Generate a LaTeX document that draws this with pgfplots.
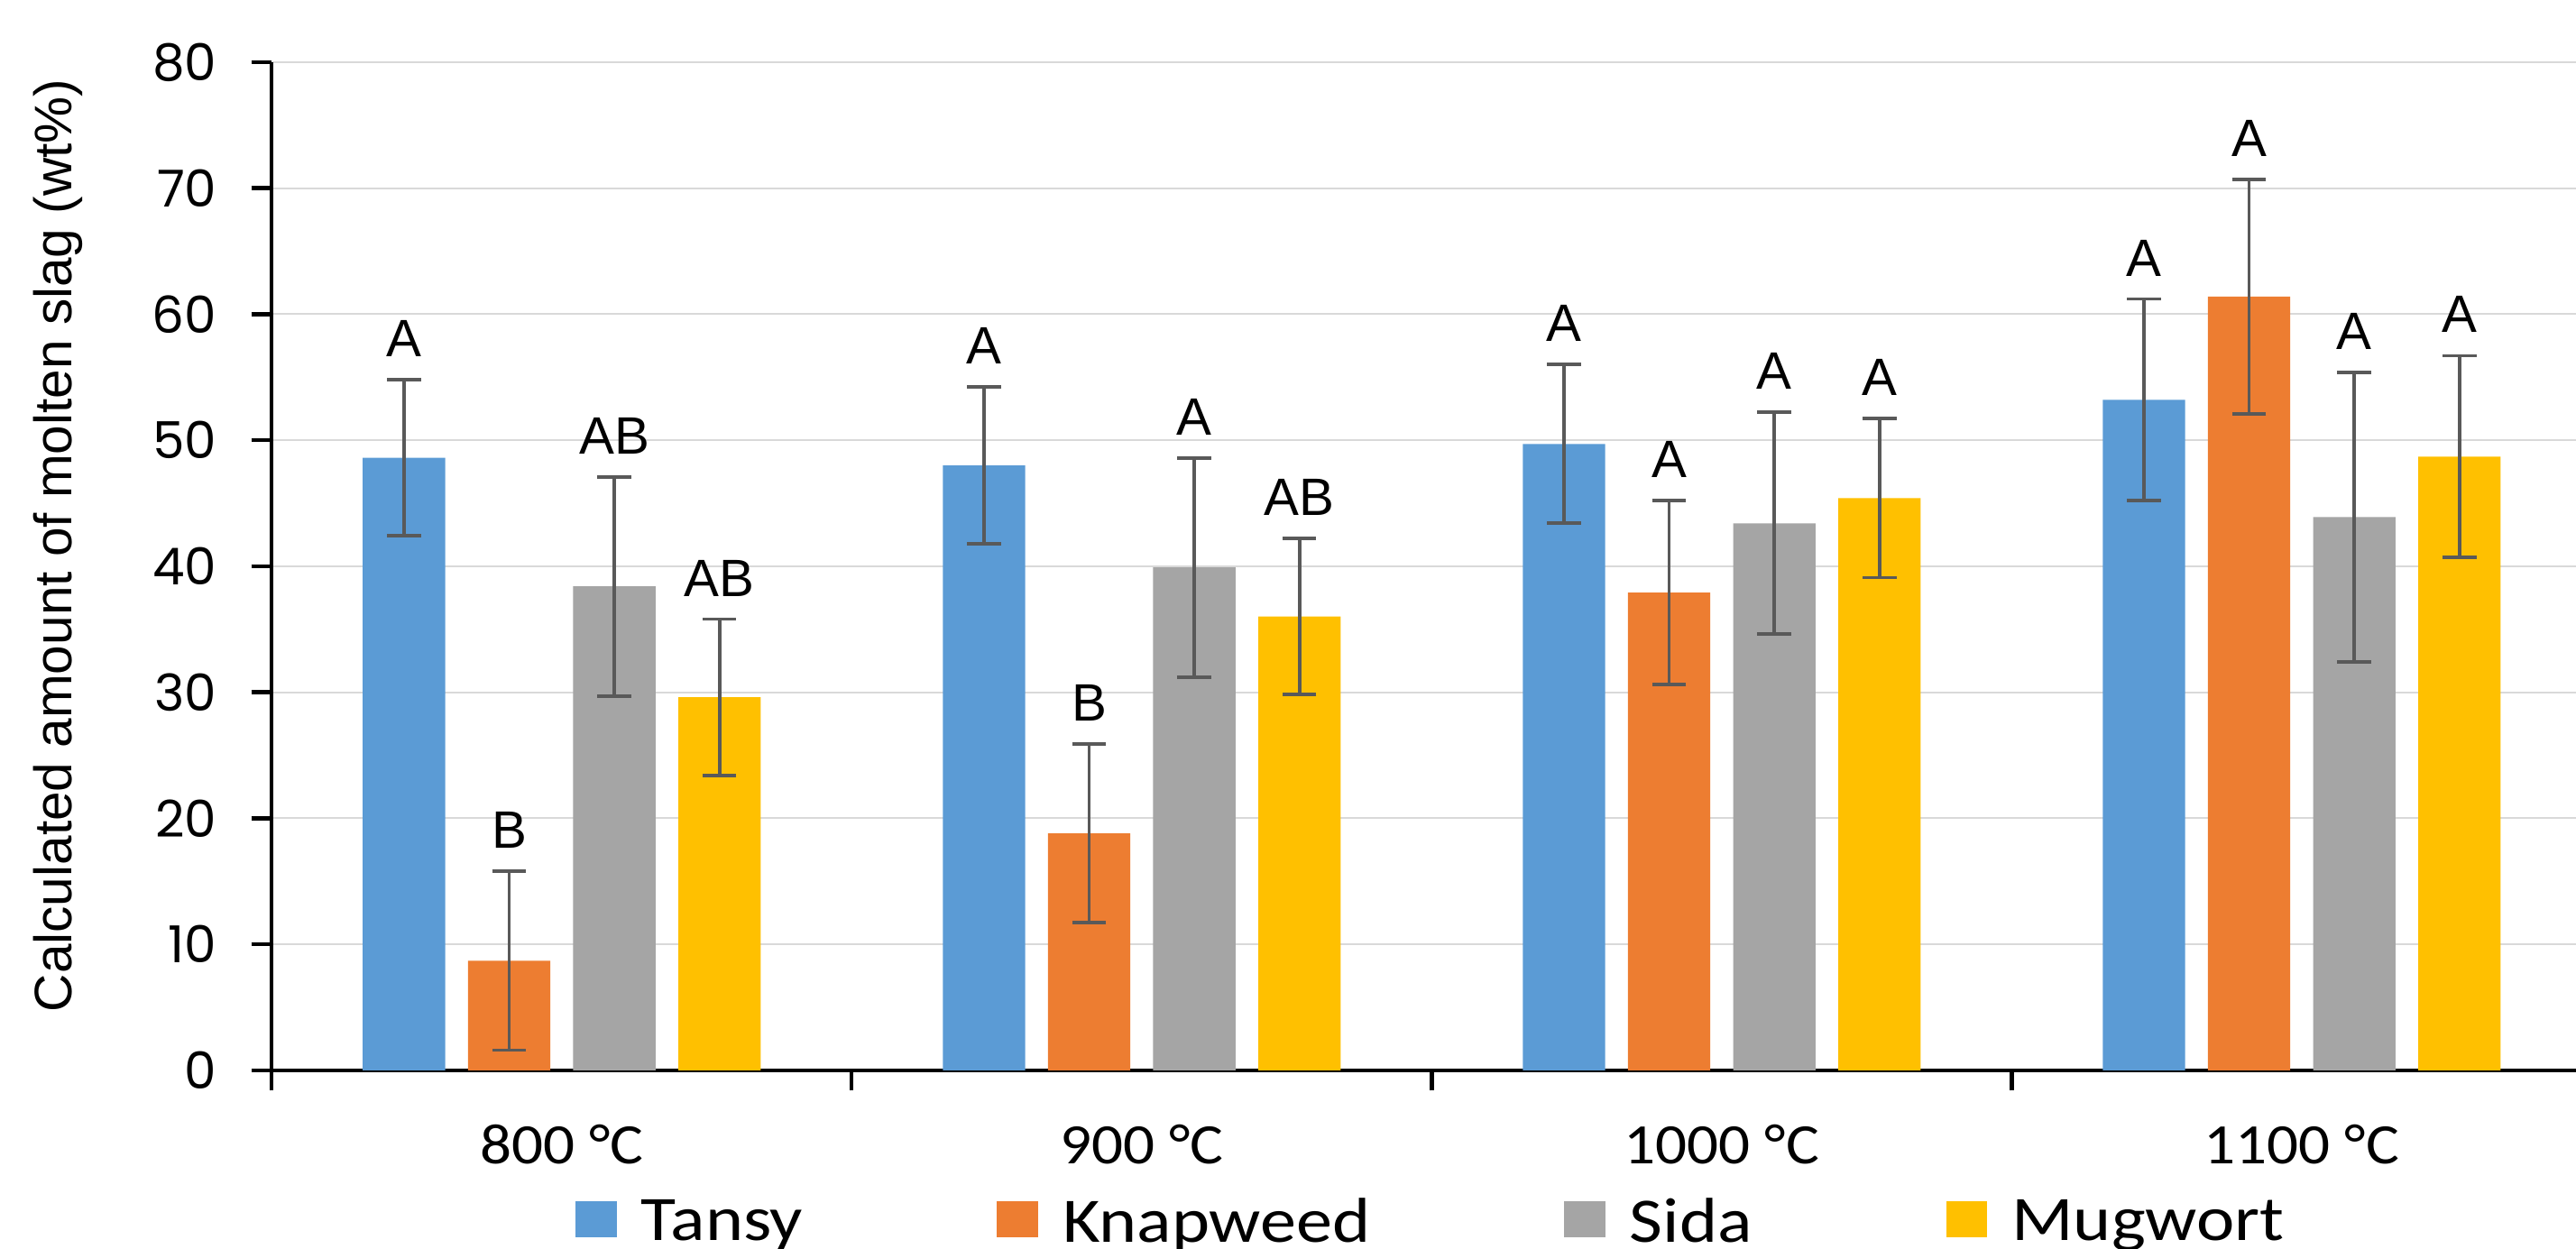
\documentclass[border=0pt]{standalone}
\usepackage{fontspec}
\setmainfont{Liberation Sans}
\newfontfamily\carlitotick[FakeStretch=1.09]{Carlito}
\newfontfamily\carlitoleg[FakeStretch=1.14]{Carlito}
\newfontfamily\poppins{Poppins}
\usepackage{pgfplots}
\usepackage{pgfplotstable}
\pgfplotsset{compat=1.18}
\definecolor{tansy}{HTML}{5B9BD5}
\definecolor{knap}{HTML}{ED7D31}
\definecolor{sida}{HTML}{A5A5A5}
\definecolor{mug}{HTML}{FFC000}
\definecolor{errc}{HTML}{595959}
\definecolor{gridc}{HTML}{D9D9D9}

\pgfplotstableread{
x val err lab
0 48.6 6.2 A
1 48.0 6.2 A
2 49.7 6.3 A
3 53.2 8.0 A
}\tansytab
\pgfplotstableread{
x val err lab
0 8.7 7.1 B
1 18.8 7.1 B
2 37.9 7.3 A
3 61.4 9.3 A
}\knaptab
\pgfplotstableread{
x val err lab
0 38.4 8.7 AB
1 39.9 8.7 A
2 43.4 8.8 A
3 43.9 11.5 A
}\sidatab
\pgfplotstableread{
x val err lab
0 29.6 6.2 AB
1 36.0 6.2 AB
2 45.4 6.3 A
3 48.7 8.0 A
}\mugtab

\pgfplotsset{
  mybar/.style={ybar, bar width=0.142, bar shift=0pt, draw=none,
    error bars/y dir=both, error bars/y explicit,
    error bars/error bar style={draw=errc, line width=1.05pt},
    error bars/error mark options={rotate=90, draw=errc, line width=1.05pt, mark size=5.15pt}},
  mylab/.style={draw=none, mark=none, forget plot, nodes near coords,
    point meta=explicit symbolic,
    nodes near coords style={font=\fontsize{16}{18}\selectfont, anchor=base, inner sep=0pt, yshift=7pt, black}},
}

\begin{document}
\begin{tikzpicture}
\begin{axis}[
  scale only axis, width=701.3pt, height=306.9pt,
  xmin=-0.5, xmax=3.473, ymin=0, ymax=80,
  axis lines=left,
  axis line style={-, line width=1.2pt, black},
  ytick={0,10,...,80},
  ymajorgrids, grid style={gridc, line width=0.55pt},
  xtick={-0.5,0.5,1.5,2.5}, xticklabels={},
  extra x ticks={0,1,2,3},
  extra x tick labels={800 °C,900 °C,1000 °C,1100 °C},
  extra x tick style={major tick length=0pt, grid=none,
    tick label style={font=\carlitotick\fontsize{17.4}{20}\selectfont, yshift=-13pt}},
  tick align=outside, major tick length=6.2pt,
  tick style={black, line width=1.2pt},
  /pgf/number format/assume math mode=true,
  yticklabel style={font=\poppins\fontsize{15.5}{17}\selectfont, xshift=-7pt},
  ylabel={Calculated amount of molten slag (wt\%)},
  ylabel style={font=\fontsize{16.07}{19}\selectfont, at={(axis description cs:-0.0927,0.5206)}, anchor=center, rotate=0},
  legend columns=4,
  legend style={at={(0.504,-0.151)}, anchor=center, draw=none, fill=none,
    font=\carlitoleg\fontsize{19.3}{23}\selectfont,
    /tikz/column sep=5.5pt,
    /tikz/every even column/.append style={column sep=57pt}},
  clip=false,
]
\addplot[mybar, fill=tansy,
  legend image code/.code={\fill[tansy] (0pt,-4.5pt) rectangle (12.5pt,6.5pt);}]
  table[x expr=\thisrow{x}-0.272, y=val, y error=err] {\tansytab};
\addlegendentry{Tansy}
\addplot[mybar, fill=knap,
  legend image code/.code={\fill[knap] (0pt,-4.5pt) rectangle (12.5pt,6.5pt);}]
  table[x expr=\thisrow{x}-0.0907, y=val, y error=err] {\knaptab};
\addlegendentry{Knapweed}
\addplot[mybar, fill=sida,
  legend image code/.code={\fill[sida] (0pt,-4.5pt) rectangle (12.5pt,6.5pt);}]
  table[x expr=\thisrow{x}+0.0907, y=val, y error=err] {\sidatab};
\addlegendentry{Sida}
\addplot[mybar, fill=mug,
  legend image code/.code={\fill[mug] (0pt,-4.5pt) rectangle (12.5pt,6.5pt);}]
  table[x expr=\thisrow{x}+0.272, y=val, y error=err] {\mugtab};
\addlegendentry{Mugwort}

\addplot[mylab] table[x expr=\thisrow{x}-0.272, y expr=\thisrow{val}+\thisrow{err}, meta=lab] {\tansytab};
\addplot[mylab] table[x expr=\thisrow{x}-0.0907, y expr=\thisrow{val}+\thisrow{err}, meta=lab] {\knaptab};
\addplot[mylab] table[x expr=\thisrow{x}+0.0907, y expr=\thisrow{val}+\thisrow{err}, meta=lab] {\sidatab};
\addplot[mylab] table[x expr=\thisrow{x}+0.272, y expr=\thisrow{val}+\thisrow{err}, meta=lab] {\mugtab};
\end{axis}
\pgfresetboundingbox
\path[use as bounding box] ([xshift=-82.7pt,yshift=-54.25pt]current axis.south west) rectangle ([yshift=18.9pt]current axis.north east);
\end{tikzpicture}
\end{document}
